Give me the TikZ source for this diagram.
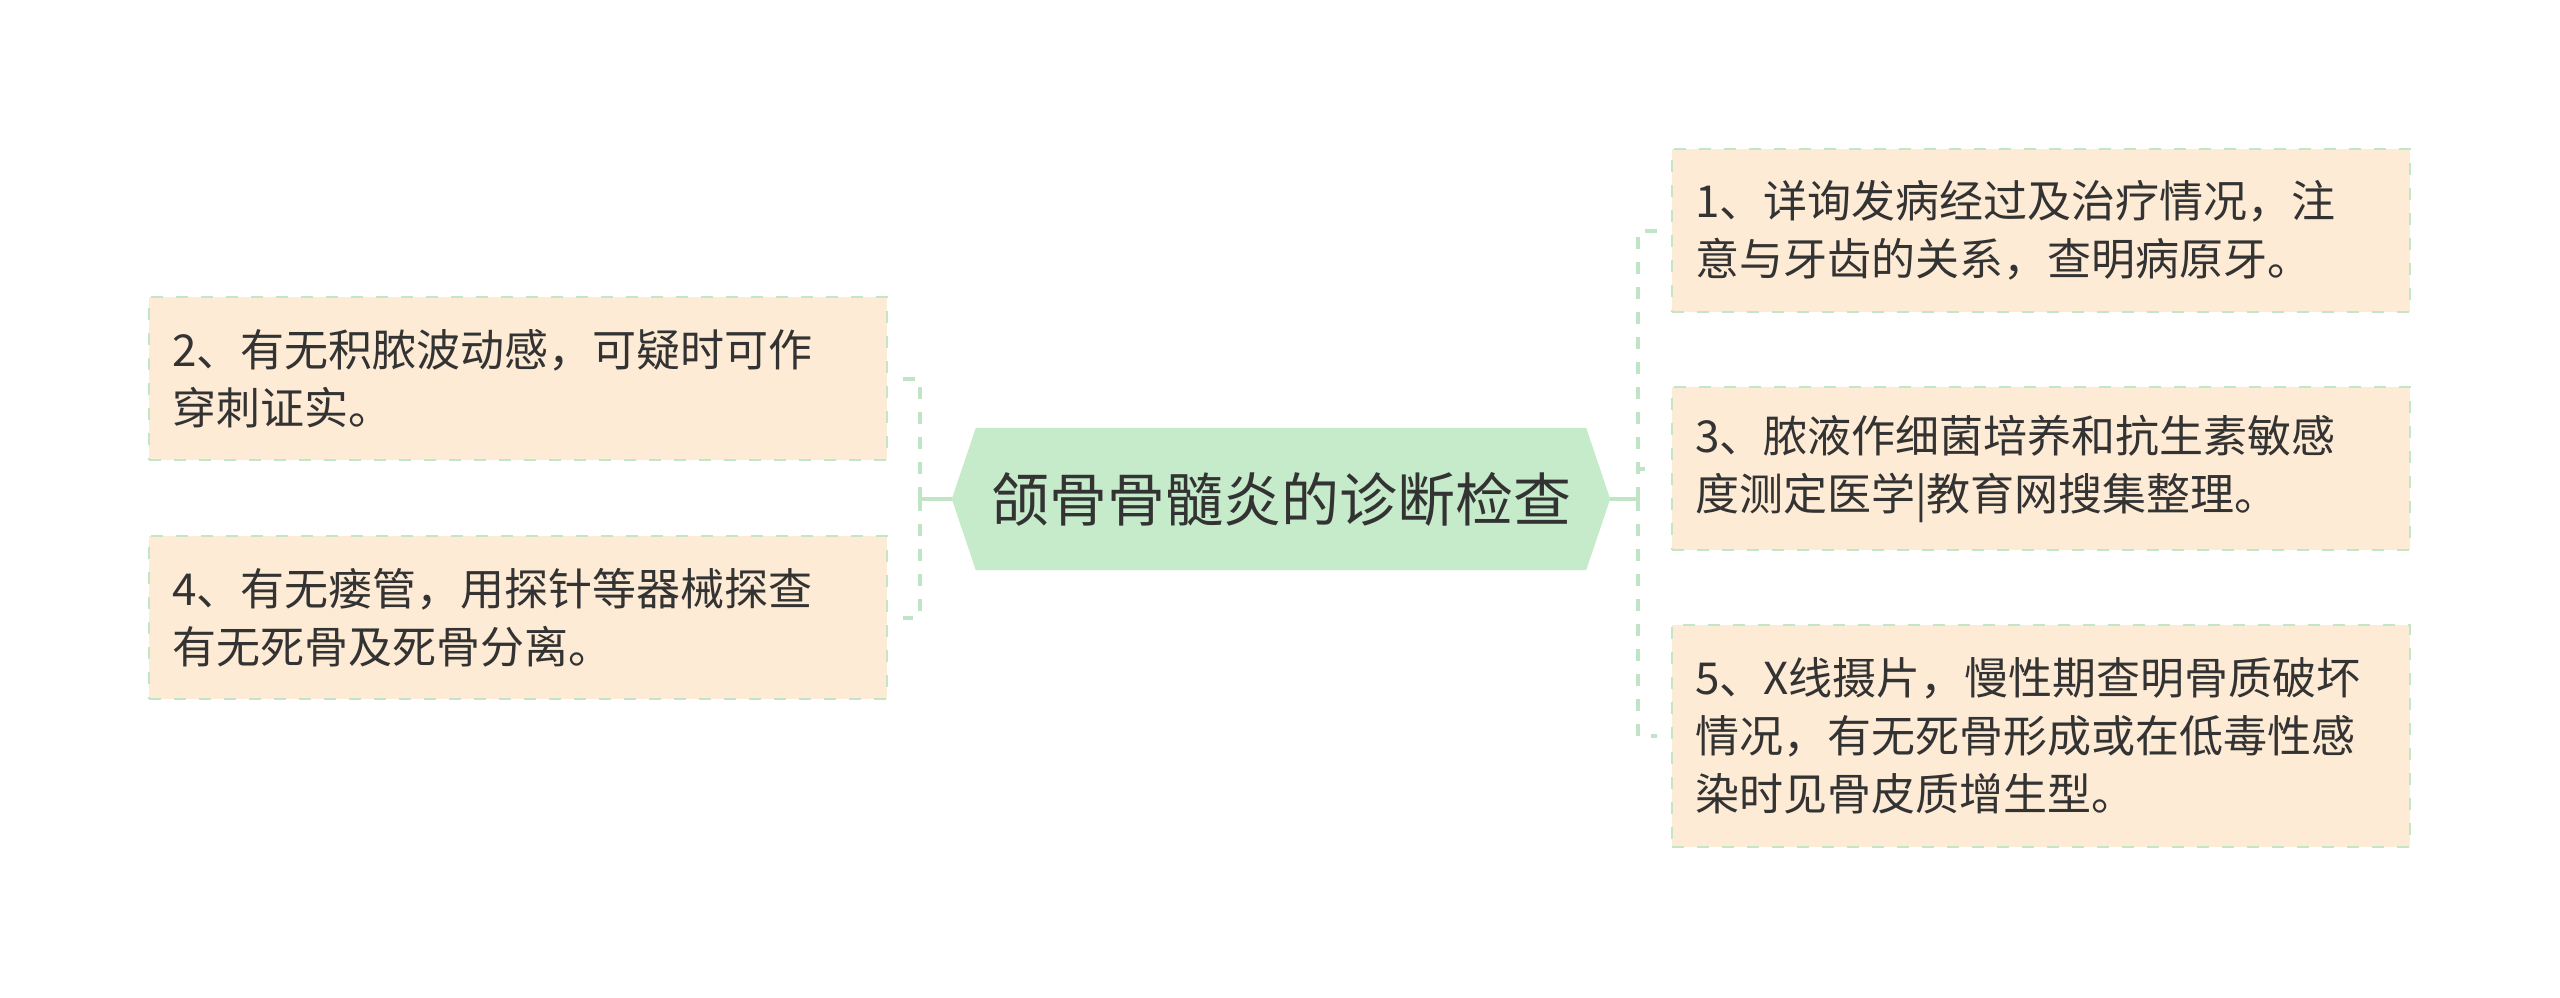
\documentclass[tikz,border=0pt]{standalone}
\usepackage{fontspec}
\setmainfont{Noto Sans CJK SC}
\usetikzlibrary{backgrounds}
\definecolor{boxfill}{HTML}{FDEBD5}
\definecolor{boxline}{HTML}{C3E6C9}
\definecolor{hexfill}{HTML}{C6EBCA}
\definecolor{conn}{HTML}{BFE5C6}
\definecolor{txt}{HTML}{333333}
\begin{document}
\begin{tikzpicture}[x=1pt,y=-1pt,
  leaf/.style={draw=boxline, line width=2.8pt, dash pattern=on 12pt off 13pt,
    fill=boxfill, minimum width=738pt, text width=692pt, align=left,
    inner sep=0pt, text=txt, font=\fontsize{44}{58}\selectfont},
  titlebox/.style={minimum width=658pt, minimum height=142pt, inner sep=0pt,
    text=txt, font=\fontsize{58}{64}\selectfont},
  link/.style={draw=conn, line width=4pt, dash pattern=on 12pt off 13pt},
  solidlink/.style={draw=conn, line width=4pt},
]
\useasboundingbox (0,0) rectangle (2560,997);

\node[titlebox] (t) at (1281,499) {颌骨骨髓炎的诊断检查};
\begin{pgfonlayer}{background}
\path[fill=hexfill] (t.west) -- ([xshift=24pt]t.north west) -- ([xshift=-24pt]t.north east)
  -- (t.east) -- ([xshift=-24pt]t.south east) -- ([xshift=24pt]t.south west) -- cycle;
\end{pgfonlayer}

\node[leaf, minimum height=163pt] (b2) at (518,378.5) {2、有无积脓波动感，可疑时可作\\穿刺证实。};
\node[leaf, minimum height=163pt] (b4) at (518,617.5) {4、有无瘘管，用探针等器械探查\\有无死骨及死骨分离。};
\node[leaf, minimum height=163pt] (b1) at (2041,230.5) {1、详询发病经过及治疗情况，注\\意与牙齿的关系，查明病原牙。};
\node[leaf, minimum height=163pt] (b3) at (2041,468.5) {3、脓液作细菌培养和抗生素敏感\\度测定医学|教育网搜集整理。};
\node[leaf, minimum height=222pt] (b5) at (2041,736) {5、X线摄片，慢性期查明骨质破坏\\情况，有无死骨形成或在低毒性感\\染时见骨皮质增生型。};

\coordinate (lj) at ([xshift=-32pt]t.west);
\coordinate (rj) at ([xshift=28pt]t.east);
\draw[solidlink] (t.west) -- (lj);
\draw[solidlink] (t.east) -- (rj);
\draw[link] (lj) |- ([xshift=15pt]b2.east);
\draw[link] (lj) |- ([xshift=15pt]b4.east);
\draw[link] (rj) |- ([xshift=-14pt]b1.west);
\draw[link] (rj) |- ([xshift=-14pt]b3.west);
\draw[link] (rj) |- ([xshift=-14pt]b5.west);
\end{tikzpicture}
\end{document}
